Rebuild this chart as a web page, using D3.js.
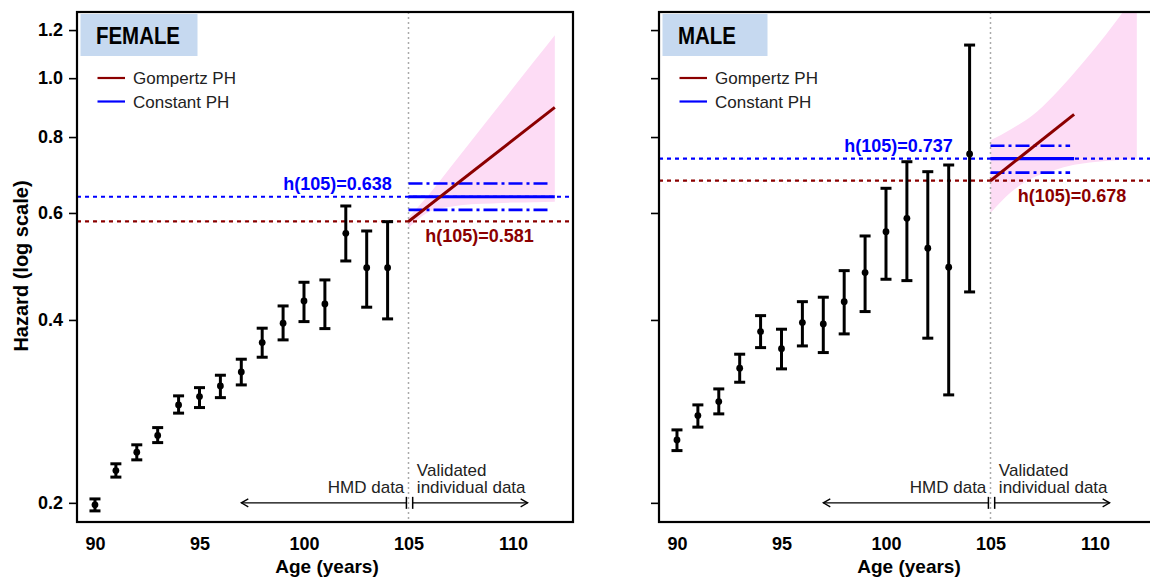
<!DOCTYPE html>
<html>
<head>
<meta charset="utf-8">
<script src="https://cdn.jsdelivr.net/npm/d3@7"></script>
<style>
body { margin: 0; background: #fff; }
text { font-family: "Liberation Sans", Arial, sans-serif; }
</style>
</head>
<body>
<svg id="chart" width="1150" height="579"></svg>
<script>
// observed hazards, ages 90-104 (HMD data)
var ages = [90, 91, 92, 93, 94, 95, 96, 97, 98, 99, 100, 101, 102, 103, 104];

var femaleHazard = [0.1985, 0.226, 0.2423, 0.2582, 0.2899, 0.2992, 0.3115, 0.3285, 0.3671, 0.3951, 0.4299, 0.4250, 0.5555, 0.4877, 0.4877];
var femaleLow    = [0.194, 0.2205, 0.2354, 0.2513, 0.281, 0.287, 0.298, 0.3127, 0.3473, 0.3709, 0.3975, 0.3871, 0.5002, 0.4198, 0.4016];
var femaleHigh   = [0.203, 0.2319, 0.2492, 0.266, 0.300, 0.3095, 0.3244, 0.3447, 0.3877, 0.4218, 0.4614, 0.4655, 0.6161, 0.5604, 0.5805];

var maleHazard = [0.2539, 0.2784, 0.2936, 0.3332, 0.3827, 0.3588, 0.3960, 0.3940, 0.4287, 0.4786, 0.5590, 0.5880, 0.5249, 0.4884, 0.7502];
var maleLow    = [0.2438, 0.2665, 0.2802, 0.3159, 0.3602, 0.3323, 0.3625, 0.3535, 0.3794, 0.4129, 0.4667, 0.4643, 0.3733, 0.3011, 0.4448];
var maleHigh   = [0.2637, 0.2899, 0.3080, 0.3513, 0.4066, 0.3862, 0.4287, 0.4360, 0.4822, 0.5499, 0.6588, 0.7286, 0.7016, 0.7196, 1.1337];

// Gompertz PH confidence band (validated individual data)
var bandAges = [105, 106, 107, 108, 109, 110, 111, 112];
var femaleBandLow  = [0.567, 0.603, 0.614, 0.620, 0.622, 0.624, 0.625, 0.626];
var femaleBandHigh = [0.59, 0.645, 0.713, 0.788, 0.871, 0.963, 1.065, 1.177];
var maleBandLow  = [0.600, 0.650, 0.685, 0.705, 0.720, 0.728, 0.733, 0.736];
var maleBandHigh = [0.79, 0.825, 0.868, 0.935, 1.02, 1.12, 1.24, 1.38];

// Gompertz PH fitted line
var femaleGompAges = [105, 112];
var femaleGomp = [0.581, 0.895];
var maleGompAges = [105, 109];
var maleGomp = [0.678, 0.872];

// Constant PH estimate and its CI
var femaleConst = [0.638, 0.607, 0.671];
var femaleConstEnd = 112;
var maleConst = [0.737, 0.699, 0.774];
var maleConstEnd = 109;

var yTicks = [0.2, 0.4, 0.6, 0.8, 1.0, 1.2];
var xTicks = [90, 95, 100, 105, 110];

var darkred = "#8b0000";
var blue = "#0000ff";

var svg = d3.select("#chart");
var top_ = 12, bottom = 522;

var y = d3.scaleLog().domain([0.186, 1.285]).range([bottom, top_]);

function drawPanel(opt) {
    var x = d3.scaleLinear().domain([89.14, 112.87]).range([opt.left, opt.left + 496]);
    var g = svg.append("g");

    svg.append("clipPath")
        .attr("id", opt.id + "clip")
        .append("rect")
        .attr("x", opt.left).attr("y", top_)
        .attr("width", 496).attr("height", bottom - top_);

    var plot = g.append("g").attr("clip-path", "url(#" + opt.id + "clip)");

    // pink band
    var band = bandAges.map(function(a, i) { return {a: a, lo: opt.bandLow[i], hi: opt.bandHigh[i]}; });
    plot.append("path")
        .datum(band)
        .attr("fill", "#fddcf5")
        .attr("d", d3.area()
            .curve(d3.curveMonotoneX)
            .x(function(d) { return x(d.a); })
            .y0(function(d) { return y(d.lo); })
            .y1(function(d) { return y(d.hi); }));

    // vertical separator at 105
    plot.append("line")
        .attr("x1", x(105)).attr("x2", x(105))
        .attr("y1", top_).attr("y2", bottom)
        .style("stroke", "#aaaaaa")
        .style("stroke-width", 1.5)
        .style("stroke-dasharray", "2,3");

    // dotted reference lines
    plot.append("line")
        .attr("x1", opt.left).attr("x2", opt.left + 496)
        .attr("y1", y(opt.constant[0])).attr("y2", y(opt.constant[0]))
        .style("stroke", blue).style("stroke-width", 2.2)
        .style("stroke-dasharray", "4,4");
    plot.append("line")
        .attr("x1", opt.left).attr("x2", opt.left + 496)
        .attr("y1", y(opt.gomp[0])).attr("y2", y(opt.gomp[0]))
        .style("stroke", darkred).style("stroke-width", 2.2)
        .style("stroke-dasharray", "4,4");

    // constant PH: estimate and CI
    plot.append("line")
        .attr("x1", x(105)).attr("x2", x(opt.constEnd))
        .attr("y1", y(opt.constant[0])).attr("y2", y(opt.constant[0]))
        .style("stroke", blue).style("stroke-width", 3.2);
    plot.selectAll(".ci")
        .data(opt.constant.slice(1))
        .enter()
        .append("line")
        .attr("x1", x(105)).attr("x2", x(opt.constEnd) - 4)
        .attr("y1", function(d) { return y(d); })
        .attr("y2", function(d) { return y(d); })
        .style("stroke", blue).style("stroke-width", 2.6)
        .style("stroke-dasharray", "14,4,3,4");

    // Gompertz PH line
    plot.append("line")
        .attr("x1", x(opt.gompAges[0])).attr("x2", x(opt.gompAges[1]))
        .attr("y1", y(opt.gomp[0])).attr("y2", y(opt.gomp[1]))
        .style("stroke", darkred).style("stroke-width", 3);

    // error bars
    var pts = ages.map(function(a, i) { return {a: a, h: opt.haz[i], lo: opt.low[i], hi: opt.high[i]}; });
    var eb = plot.selectAll(".eb").data(pts).enter().append("g");
    eb.append("line")
        .attr("x1", function(d) { return x(d.a); })
        .attr("x2", function(d) { return x(d.a); })
        .attr("y1", function(d) { return y(d.lo); })
        .attr("y2", function(d) { return y(d.hi); })
        .style("stroke", "#000").style("stroke-width", 3);
    ["lo", "hi"].forEach(function(k) {
        eb.append("line")
            .attr("x1", function(d) { return x(d.a) - 5.5; })
            .attr("x2", function(d) { return x(d.a) + 5.5; })
            .attr("y1", function(d) { return y(d[k]); })
            .attr("y2", function(d) { return y(d[k]); })
            .style("stroke", "#000").style("stroke-width", 3);
    });
    eb.append("circle")
        .attr("cx", function(d) { return x(d.a); })
        .attr("cy", function(d) { return y(d.h); })
        .attr("r", 3.4)
        .attr("fill", "#000");

    // h(105) labels
    g.append("text")
        .attr("x", x(opt.blueLabelEnd)).attr("y", y(opt.constant[0]) - 7)
        .attr("text-anchor", "end")
        .attr("font-size", "18px").attr("font-weight", "bold")
        .attr("fill", blue)
        .text("h(105)=" + d3.format(".3f")(opt.constant[0]));
    g.append("text")
        .attr("x", x(opt.redLabelStart)).attr("y", y(opt.gomp[0]) + 21)
        .attr("font-size", "18px").attr("font-weight", "bold")
        .attr("fill", darkred)
        .text("h(105)=" + d3.format(".3f")(opt.gomp[0]));

    // data source annotations
    var ya = y(0.2);
    g.append("line")
        .attr("x1", x(97)).attr("x2", x(104.9))
        .attr("y1", ya).attr("y2", ya)
        .style("stroke", "#000").style("stroke-width", 1.3);
    g.append("line")
        .attr("x1", x(105.2)).attr("x2", x(110.7))
        .attr("y1", ya).attr("y2", ya)
        .style("stroke", "#000").style("stroke-width", 1.3);
    [104.9, 105.2].forEach(function(a) {
        g.append("line")
            .attr("x1", x(a)).attr("x2", x(a))
            .attr("y1", ya - 6).attr("y2", ya + 6)
            .style("stroke", "#000").style("stroke-width", 1.5);
    });
    g.append("path")
        .attr("d", "M" + (x(97) + 7) + "," + (ya - 4) + "L" + x(97) + "," + ya + "L" + (x(97) + 7) + "," + (ya + 4))
        .attr("fill", "none").style("stroke", "#000").style("stroke-width", 1.3);
    g.append("path")
        .attr("d", "M" + (x(110.7) - 7) + "," + (ya - 4) + "L" + x(110.7) + "," + ya + "L" + (x(110.7) - 7) + "," + (ya + 4))
        .attr("fill", "none").style("stroke", "#000").style("stroke-width", 1.3);

    g.append("text")
        .attr("x", x(104.8)).attr("y", 493)
        .attr("text-anchor", "end")
        .attr("font-size", "17px").attr("fill", "#222")
        .text("HMD data");
    g.append("text")
        .attr("x", x(105.4)).attr("y", 476)
        .attr("font-size", "17px").attr("fill", "#222")
        .text("Validated");
    g.append("text")
        .attr("x", x(105.4)).attr("y", 493)
        .attr("font-size", "17px").attr("fill", "#222")
        .text("individual data");

    // box
    g.append("rect")
        .attr("x", opt.left).attr("y", top_)
        .attr("width", 496).attr("height", bottom - top_)
        .attr("fill", "none")
        .style("stroke", "#000").style("stroke-width", 2.2);

    // title box
    g.append("rect")
        .attr("x", opt.left + 3.5).attr("y", 14)
        .attr("width", opt.titleW).attr("height", 42)
        .attr("fill", "#c6d9f0");
    g.append("text")
        .attr("x", opt.left + 19).attr("y", 44)
        .attr("font-size", "24px").attr("font-weight", "bold")
        .attr("textLength", opt.titleTextW)
        .attr("lengthAdjust", "spacingAndGlyphs")
        .attr("fill", "#000")
        .text(opt.title);

    // legend
    var legend = [{label: "Gompertz PH", color: darkred}, {label: "Constant PH", color: blue}];
    legend.forEach(function(d, i) {
        var ly = 78 + i * 23.5;
        g.append("line")
            .attr("x1", opt.left + 20.5).attr("x2", opt.left + 48)
            .attr("y1", ly).attr("y2", ly)
            .style("stroke", d.color).style("stroke-width", 2.2);
        g.append("text")
            .attr("x", opt.left + 56).attr("y", ly + 6)
            .attr("font-size", "17px").attr("fill", "#222")
            .text(d.label);
    });

    // Y axis
    var yAxis = d3.axisLeft(y).tickValues(yTicks).tickSize(8).tickPadding(6)
        .tickFormat(opt.yLabels ? d3.format(".1f") : "");
    var ga = g.append("g")
        .attr("transform", "translate(" + opt.left + ",0)")
        .call(yAxis);
    ga.select(".domain").remove();
    ga.selectAll("line").style("stroke", "#000").style("stroke-width", 1.6);
    ga.selectAll("text").attr("font-size", "18px").attr("font-weight", "bold")
        .attr("font-family", "Liberation Sans, Arial, sans-serif").attr("fill", "#000");

    // X axis
    var xAxis = d3.axisBottom(x).tickValues(xTicks).tickSize(0).tickPadding(15);
    var gx = g.append("g")
        .attr("transform", "translate(0," + bottom + ")")
        .call(xAxis);
    gx.select(".domain").remove();
    gx.selectAll("text").attr("font-size", "18px").attr("font-weight", "bold")
        .attr("font-family", "Liberation Sans, Arial, sans-serif").attr("fill", "#000");

    g.append("text")
        .attr("x", opt.left + 250).attr("y", 573)
        .attr("text-anchor", "middle")
        .attr("font-size", "19px").attr("font-weight", "bold")
        .text("Age (years)");
}

drawPanel({
    id: "female", left: 77, title: "FEMALE", titleW: 117, titleTextW: 84,
    haz: femaleHazard, low: femaleLow, high: femaleHigh,
    bandLow: femaleBandLow, bandHigh: femaleBandHigh,
    gompAges: femaleGompAges, gomp: femaleGomp,
    constant: femaleConst, constEnd: femaleConstEnd,
    blueLabelEnd: 104.2, redLabelStart: 105.8, yLabels: true
});
drawPanel({
    id: "male", left: 659, title: "MALE", titleW: 105, titleTextW: 58,
    haz: maleHazard, low: maleLow, high: maleHigh,
    bandLow: maleBandLow, bandHigh: maleBandHigh,
    gompAges: maleGompAges, gomp: maleGomp,
    constant: maleConst, constEnd: maleConstEnd,
    blueLabelEnd: 103.2, redLabelStart: 106.3, yLabels: false
});

svg.append("text")
    .attr("transform", "translate(28,266) rotate(-90)")
    .attr("text-anchor", "middle")
    .attr("font-size", "20px").attr("font-weight", "bold")
    .text("Hazard (log scale)");
</script>
</body>
</html>
